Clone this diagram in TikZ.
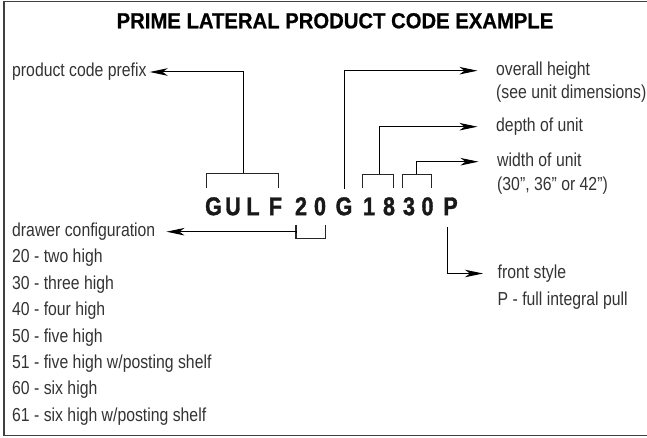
\documentclass[tikz,border=0pt]{standalone}
\usepackage{fontspec}
\setmainfont[FakeStretch=0.84]{Liberation Sans}
\newfontfamily\titlefont[FakeStretch=0.93,FakeBold=0.6]{Liberation Sans Bold}
\newfontfamily\codefont[FakeStretch=0.84,FakeBold=1.4]{Liberation Sans Bold}
\usetikzlibrary{arrows.meta,positioning,calc}

\tikzstyle{desc} = [inner sep=2.5pt, anchor=west, text height=9.5pt,
text depth=0pt, font=\fontsize{18.8}{20}\selectfont, text=black!80]
\tikzstyle{codechar} = [inner sep=0pt, text height=18.3pt, text depth=0pt,
font=\codefont\fontsize{25.6}{26}\selectfont, text=black!90]
\tikzstyle{arrow} = [line width=1pt,-{Stealth[length=18pt,width=7.5pt,inset=5pt]}]
\tikzstyle{bracket} = [line width=1.2pt, black!85]
\tikzstyle{frame} = [line width=1.3pt, black!75]

\begin{document}
\begin{tikzpicture}[x=1pt, y=-1pt, node distance=20pt]
    \useasboundingbox (0,0) rectangle (647,438);
    \draw [frame] (648,1.5) -| (4,435.5) -- (648,435.5);
    % Title
    \node (title) [inner sep=0pt, text height=15.6pt, text depth=0pt,
      font=\titlefont\fontsize{21.8}{24}\selectfont] at (335,20.5)
      {PRIME LATERAL PRODUCT CODE EXAMPLE};
    % Product code letters
    \node (G1) [codechar] at (213.5,206) {G};
    \node (U) [codechar, right of=G1, xshift=-0.5pt] {U};
    \node (L) [codechar, right of=U] {L};
    \node (F) [codechar, right of=L, xshift=2.5pt] {F};
    \node (N2) [codechar, right of=F, xshift=5.5pt] {2};
    \node (N0) [codechar, right of=N2, xshift=-1pt] {0};
    \node (G2) [codechar, right of=N0, xshift=4pt] {G};
    \node (N1) [codechar, right of=G2, xshift=5pt] {1};
    \node (N8) [codechar, right of=N1] {8};
    \node (N3) [codechar, right of=N8] {3};
    \node (N0b) [codechar, right of=N3, xshift=-1.5pt] {0};
    \node (P) [codechar, right of=N0b, xshift=3pt] {P};
    % Left hand labels
    \node (prefix) [desc] at (9.5,72) {product code prefix};
    \node (drawer) [desc] at (9.5,231.7) {drawer configuration};
    \node (d20) [desc, below=26.4pt of drawer.west, anchor=west] {20 - two high};
    \node (d30) [desc, below=26.4pt of d20.west, anchor=west] {30 - three high};
    \node (d40) [desc, below=26.4pt of d30.west, anchor=west] {40 - four high};
    \node (d50) [desc, below=26.4pt of d40.west, anchor=west] {50 - five high};
    \node (d51) [desc, below=26.4pt of d50.west, anchor=west] {51 - five high w/posting shelf};
    \node (d60) [desc, below=26.4pt of d51.west, anchor=west] {60 - six high};
    \node (d61) [desc, below=26.4pt of d60.west, anchor=west] {61 - six high w/posting shelf};
    % Right hand labels
    \node (height) [desc] at (493.5,70.7) {overall height};
    \node (seeunit) [desc, below=23.5pt of height.west, anchor=west] {(see unit dimensions)};
    \node (depth) [desc] at (493.5,126.7) {depth of unit};
    \node (width) [desc] at (494.5,161.7) {width of unit};
    \node (sizes) [desc, below=23.8pt of width.west, anchor=west] {(30”, 36” or 42”)};
    \node (front) [desc] at (495,273.5) {front style};
    \node (pull) [desc, below=27pt of front.west, anchor=west] {P - full integral pull};
    % Brackets
    \draw [bracket] ([xshift=-6.8pt,yshift=8.5pt]G1.north) |- ([xshift=3.2pt,yshift=23.5pt]F.north)
      -- ([xshift=3.2pt,yshift=8.5pt]F.north);
    \draw [bracket] ([xshift=-5pt,yshift=-10pt]N2.south) |- ([xshift=5.5pt,yshift=-23pt]N0.south)
      -- ([xshift=5.5pt,yshift=-10pt]N0.south);
    \draw [bracket] ([xshift=-6.3pt,yshift=8.5pt]N1.north) |- ([xshift=4.3pt,yshift=22.5pt]N8.north)
      -- ([xshift=4.3pt,yshift=8.5pt]N8.north);
    \draw [bracket] ([xshift=-6.3pt,yshift=8.5pt]N3.north) |- ([xshift=4.2pt,yshift=22.5pt]N0b.north)
      -- ([xshift=4.2pt,yshift=8.5pt]N0b.north);
    % Connections
    \draw [arrow, shorten >=0.5pt] ($(G1.north)!0.5!(F.north)+(-1.5,-23.5)$) |- (prefix.east);
    \draw [arrow, shorten >=8.5pt] ([xshift=-5pt,yshift=-16.5pt]N2.south) |- (drawer.east);
    \draw [arrow, shorten >=16pt] ([yshift=8pt]G2.north) |- (height.west);
    \draw [arrow, shorten >=16pt] ($(N1.north)!0.5!(N8.north)+(0,-22.5)$) |- (depth.west);
    \draw [arrow, shorten >=16pt] ($(N3.north)!0.5!(N0b.north)+(-1.7,-22.5)$) |- (width.west);
    \draw [arrow, shorten >=12pt] ([xshift=-2.8pt,yshift=-12pt]P.south) |- (front.west);
\end{tikzpicture}
\end{document}
